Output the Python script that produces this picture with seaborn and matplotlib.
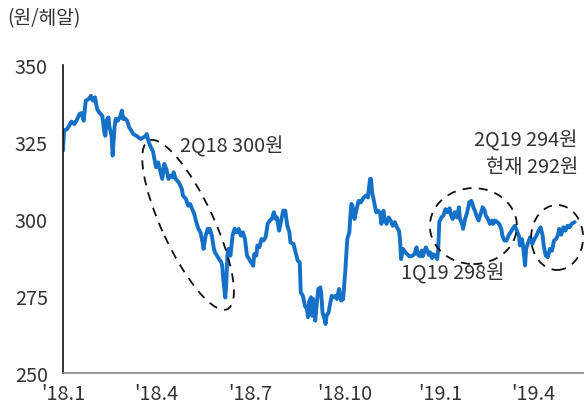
import numpy as np
import pandas as pd
import matplotlib
matplotlib.use("Agg")
import matplotlib.pyplot as plt
import matplotlib.dates as mdates
from matplotlib.patches import Ellipse
from matplotlib.transforms import IdentityTransform
import seaborn as sns

# ---- data: days since 2018-01-01 and BRL/KRW rate (원/헤알) ----
days = [0, 1, 4, 6, 8, 11, 13, 16, 18, 20, 22, 25, 27, 29, 31, 33, 35, 38, 40, 41,
        42, 44, 45, 47, 48, 50, 51, 53, 55, 57, 58, 60, 62, 64, 66, 68, 71, 73, 75, 78,
        80, 81, 83, 85, 87,
        90, 92, 94, 96, 98, 100, 102, 104, 106, 107, 109, 112, 115, 116, 119, 121, 123, 125, 127, 129,
        131, 133, 135, 136, 138, 140, 141, 142, 144, 146, 147, 149, 151, 153, 154, 155, 157, 158, 159, 160,
        162, 163, 164, 166, 168, 170, 172,
        174, 176, 178, 180, 182, 184, 185, 187, 188, 190, 192, 194, 196, 198, 200, 202, 204, 206, 207, 209,
        211, 213, 215, 217, 219, 220, 223, 225, 227, 229, 230, 232, 234, 236, 237, 238, 240, 241, 242, 244,
        245, 247, 249, 250, 251, 253, 254, 255, 257, 258, 260, 262, 264, 265, 267, 269, 271, 273, 275, 277,
        278, 279, 280, 282, 284, 286, 288, 289, 291, 293, 295, 297, 298, 299, 301, 303, 305, 307, 308, 310,
        311, 313, 315, 317, 319, 321, 323, 325, 326, 327, 329, 331, 333, 335, 337, 339, 340, 342, 343, 345,
        347, 348, 350, 351, 353, 354, 355, 357, 358, 360, 362, 363, 364, 366,
        368, 370, 372, 374, 375, 377, 379, 381, 383, 384, 386, 387, 389, 391, 393, 395, 397, 399, 400, 402,
        404, 406, 408, 409, 411, 413, 415, 416, 418, 420, 422, 424, 425, 427, 429, 431, 433, 435, 437, 439,
        441, 442, 444, 445, 447, 448, 450, 452, 454, 456, 458, 460, 462, 464, 465, 467, 469, 471, 473, 475,
        477, 479, 480, 482, 484, 486, 488, 490, 492, 495]
rate = [322.2, 328.7, 329.2, 330.3, 331.6, 330.8, 331.9, 334.1, 334.4, 331.9, 338.4, 339.0, 340.0, 338.4, 339.5, 335.7, 334.6, 333.5, 328.1, 327.0,
        331.9, 333.0, 329.8, 327.0, 320.6, 330.3, 332.5, 331.9, 333.0, 335.2, 332.5, 332.7, 331.9, 329.8, 328.7, 327.6, 327.0, 326.5, 326.0, 326.5,
        327.0, 327.6, 324.9, 323.3, 322.0,
        316.8, 318.4, 315.7, 313.0, 317.9, 316.2, 313.0, 314.1, 313.5, 315.2, 313.0, 311.9, 309.7, 307.6, 306.5, 304.3, 304.9, 303.2, 301.6, 298.9,
        296.8, 295.7, 292.4, 290.3, 294.6, 296.8, 295.7, 296.8, 294.6, 290.3, 289.2, 288.1, 287.0, 286.0, 284.9, 280.5, 274.5, 279.5, 288.1, 290.3,
        288.1, 291.4, 294.6, 296.8, 295.7, 296.8, 294.6,
        295.7, 293.5, 288.1, 287.0, 285.9, 284.8, 288.6, 288.1, 291.4, 290.8, 293.5, 293.0, 294.1, 298.4, 299.5, 300.0, 302.2, 300.0, 300.5, 296.2,
        299.5, 302.7, 302.7, 297.8, 295.7, 292.4, 291.9, 289.2, 286.5, 285.9, 276.2, 275.1, 271.8, 270.8, 268.1, 273.0, 274.6, 268.6, 274.0, 267.0,
        270.8, 277.3, 277.8, 275.1, 269.7, 267.5, 265.9, 268.6, 269.7, 271.8, 275.1, 274.6, 275.1, 274.0, 277.3, 273.5, 274.0, 282.7, 293.5, 295.7,
        301.1, 304.9, 304.3, 300.0, 303.2, 305.9, 305.4, 305.9, 307.0, 307.6, 307.0, 313.0, 313.0, 308.7, 305.4, 302.2, 302.7, 301.6, 298.4, 302.7,
        300.0, 298.4, 300.5, 299.5, 297.8, 299.0, 297.3, 296.2, 293.5, 287.0, 290.3, 289.2, 288.6, 287.9, 287.9, 288.3, 288.6, 290.8, 288.6, 287.9,
        289.7, 287.9, 289.7, 290.8, 289.2, 288.3, 289.2, 287.3, 288.6, 288.1, 287.0, 290.3, 299.0, 300.5,
        301.1, 303.2, 302.2, 303.5, 301.6, 300.0, 302.2, 300.5, 303.8, 300.0, 298.4, 296.8, 300.0, 302.2, 305.4, 305.9, 303.8, 302.2, 301.1, 299.5,
        301.6, 303.8, 302.7, 301.1, 300.0, 298.4, 299.5, 298.4, 299.5, 299.0, 298.4, 296.8, 294.6, 293.0, 293.0, 294.6, 295.7, 296.8, 297.8, 296.2,
        294.6, 291.4, 293.5, 291.4, 284.9, 290.3, 292.4, 294.1, 291.9, 293.5, 294.6, 296.2, 297.3, 294.6, 291.4, 288.1, 287.6, 290.3, 289.7, 293.0,
        293.5, 294.9, 296.8, 294.9, 297.3, 296.2, 297.8, 297.3, 298.4, 299.0]

tick_dates = ["2018-01-01", "2018-04-01", "2018-07-01", "2018-10-01", "2019-01-01", "2019-04-01"]
tick_labels = ["'18.1", "'18.4", "'18.7", "'18.10", "'19.1", "'19.4"]
y_ticks = [250, 275, 300, 325, 350]

unit_label = "(원/헤알)"
notes = ["2Q18 300원", "1Q19 298원", "2Q19 294원", "현재 292원"]

start = pd.Timestamp("2018-01-01")
df = pd.DataFrame({"date": start + pd.to_timedelta(days, unit="D"), "rate": rate})

# ---- style ----
sns.set_theme(style="white")
plt.rcParams["font.family"] = ["Noto Sans CJK KR", "DejaVu Sans"]
plt.rcParams["axes.unicode_minus"] = False
TXT = "#333333"
FS = 14.3

fig = plt.figure(figsize=(5.84, 4.10), dpi=100)
ax = fig.add_axes([63 / 584, 36 / 410, 1 - 63 / 584, (374 - 66) / 410])

sns.lineplot(data=df, x="date", y="rate", ax=ax, color="#1570C8", linewidth=2.8)

ax.set_xlim(start, pd.Timestamp("2019-05-20"))
ax.set_ylim(250, 350)
ax.set_yticks(y_ticks)
ax.set_xticks(pd.to_datetime(tick_dates))
ax.set_xticklabels(tick_labels)
ax.set_xlabel("")
ax.set_ylabel("")
ax.tick_params(axis="both", labelsize=FS, colors=TXT, length=5, width=1)
ax.tick_params(axis="x", color="#888888", pad=2)
ax.tick_params(axis="y", color="#222222", pad=6)

for s in ["top", "right"]:
    ax.spines[s].set_visible(False)
ax.spines["left"].set_color("#111111")
ax.spines["left"].set_linewidth(1.2)
ax.spines["bottom"].set_color("#888888")
ax.spines["bottom"].set_linewidth(1.2)

fig.text(7 / 584, 1 - 19 / 410, unit_label, fontsize=13.8, color=TXT, va="center", ha="left")

# ---- annotations ----
ax.text(pd.Timestamp("2018-04-24"), 323.7, notes[0], fontsize=FS, color=TXT, va="center", ha="left")
ax.text(pd.Timestamp("2018-11-24"), 282.6, notes[1], fontsize=FS, color=TXT, va="center", ha="left")
ax.text(pd.Timestamp("2019-05-14"), 325.6, notes[2], fontsize=FS, color=TXT, va="center", ha="right")
ax.text(pd.Timestamp("2019-05-14"), 317.2, notes[3], fontsize=FS, color=TXT, va="center", ha="right")

fig.canvas.draw()
ell_specs = [
    (pd.Timestamp("2018-05-02"), 298.1, 186, 52, -65),
    (pd.Timestamp("2019-02-02"), 297.7, 87, 76, 0),
    (pd.Timestamp("2019-04-24"), 294.0, 52, 65, 0),
]
for d, v, w, h, ang in ell_specs:
    cx, cy = ax.transData.transform((mdates.date2num(d), v))
    e = Ellipse((cx, cy), w, h, angle=ang, transform=IdentityTransform(),
                fill=False, edgecolor="#111111", linewidth=1.3,
                linestyle=(0, (5, 4)), clip_on=False)
    fig.add_artist(e)

fig.savefig("out.png", dpi=100)
